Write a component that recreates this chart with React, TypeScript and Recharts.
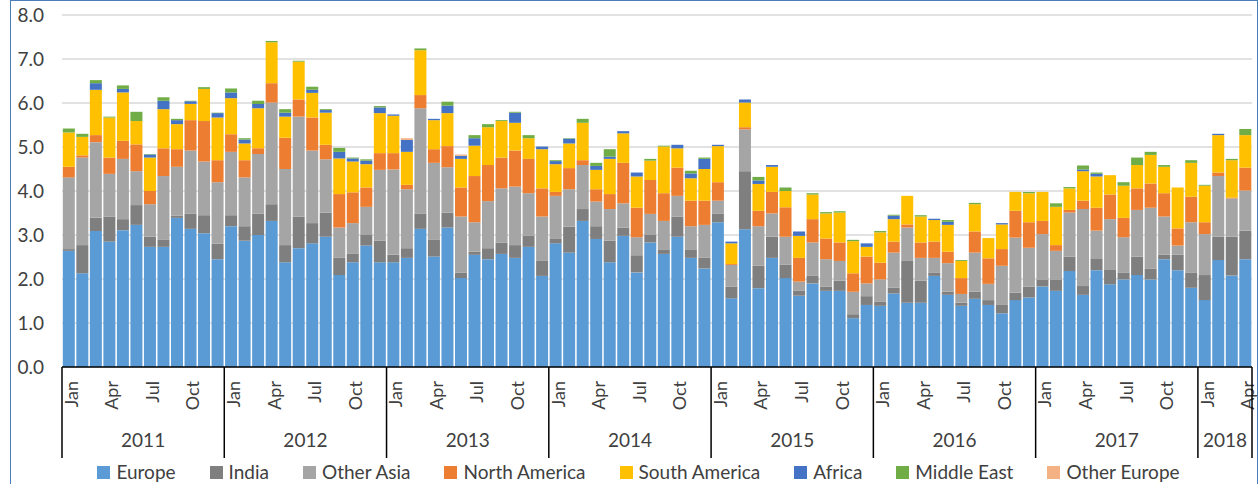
import React from 'react';
import { BarChart, Bar, XAxis, YAxis, CartesianGrid, Legend } from 'recharts';

const MONTH_NAMES = ['Jan', 'Feb', 'Mar', 'Apr', 'May', 'Jun', 'Jul', 'Aug', 'Sep', 'Oct', 'Nov', 'Dec'];
const YEARS = [2011, 2012, 2013, 2014, 2015, 2016, 2017, 2018];
const MONTHS_PER_YEAR = [12, 12, 12, 12, 12, 12, 12, 4];
const LABELLED_MONTHS = ['Jan', 'Apr', 'Jul', 'Oct'];
const Y_TICKS = [0, 1, 2, 3, 4, 5, 6, 7, 8];

const europe = [
  2.64, 2.13, 3.09, 2.85, 3.11, 3.23, 2.73, 2.73, 3.39, 3.14, 3.04, 2.45,
  3.20, 2.87, 3.00, 3.32, 2.38, 2.70, 2.81, 2.96, 2.09, 2.38, 2.76, 2.38,
  2.38, 2.48, 3.14, 2.51, 3.17, 2.02, 2.55, 2.45, 2.57, 2.48, 2.73, 2.07,
  2.81, 2.60, 3.32, 2.91, 2.38, 2.98, 2.15, 2.83, 2.57, 2.96, 2.48, 2.24,
  3.29, 1.56, 3.13, 1.79, 2.48, 2.02, 1.62, 1.90, 1.73, 1.73, 1.11, 1.41,
  1.39, 1.67, 1.46, 1.46, 2.07, 1.64, 1.39, 1.55, 1.41, 1.22, 1.52, 1.58,
  1.83, 1.73, 2.18, 1.64, 2.20, 1.88, 1.99, 2.09, 1.99, 2.45, 2.20, 1.80,
  1.52, 2.43, 2.08, 2.45,
];
const india = [
  0.04, 0.64, 0.30, 0.57, 0.25, 0.45, 0.23, 0.17, 0.05, 0.34, 0.41, 0.35,
  0.25, 0.33, 0.49, 0.38, 0.39, 0.72, 0.46, 0.55, 0.39, 0.19, 0.24, 0.49,
  0.17, 0.22, 0.35, 0.39, 0.34, 0.12, 0.07, 0.25, 0.26, 0.29, 0.25, 0.34,
  0.10, 0.59, 0.27, 0.29, 0.49, 0.19, 0.39, 0.17, 0.09, 0.46, 0.18, 0.24,
  0.20, 0.27, 1.32, 0.51, 0.48, 0.31, 0.11, 0.17, 0.10, 0.23, 0.09, 0.20,
  0.09, 0.13, 0.95, 0.50, 0.08, 0.07, 0.07, 0.16, 0.11, 0.19, 0.17, 0.25,
  0.16, 0.26, 0.33, 0.20, 0.27, 0.34, 0.16, 0.42, 0.24, 0.10, 0.35, 0.35,
  0.57, 0.53, 0.88, 0.65,
];
const otherAsia = [
  1.63, 1.99, 1.72, 0.97, 1.37, 0.77, 0.74, 1.44, 1.11, 1.44, 1.22, 1.40,
  1.44, 1.11, 1.35, 2.31, 1.73, 2.27, 1.65, 1.21, 0.69, 0.70, 0.64, 1.61,
  1.94, 1.34, 2.39, 1.74, 1.03, 1.28, 0.67, 1.07, 1.23, 1.33, 0.97, 1.01,
  0.98, 0.85, 1.00, 0.56, 0.72, 0.55, 0.41, 0.48, 0.66, 0.47, 0.54, 0.75,
  0.29, 0.49, 0.95, 0.90, 0.53, 0.63, 0.21, 0.76, 0.62, 0.45, 0.51, 0.29,
  0.51, 0.80, 0.76, 0.52, 0.33, 0.65, 0.20, 0.89, 0.37, 0.89, 1.25, 0.88,
  1.03, 0.65, 1.00, 1.75, 0.63, 1.14, 0.80, 1.06, 1.39, 0.87, 0.21, 1.14,
  0.93, 1.38, 0.87, 0.91,
];
const northAmerica = [
  0.24, 0.05, 0.16, 0.37, 0.41, 0.61, 0.30, 0.63, 0.40, 0.69, 0.92, 0.50,
  0.40, 0.39, 0.13, 0.44, 0.71, 0.39, 0.75, 0.33, 0.76, 0.70, 0.44, 0.38,
  0.37, 0.10, 0.30, 0.31, 0.48, 0.66, 1.05, 0.82, 0.70, 0.82, 0.78, 0.64,
  0.09, 0.48, 0.11, 0.28, 0.34, 0.92, 0.67, 0.77, 0.63, 0.64, 0.58, 0.55,
  0.42, 0.02, 0.05, 0.35, 0.49, 0.67, 0.54, 0.53, 0.47, 0.42, 0.42, 0.61,
  0.38, 0.25, 0.07, 0.35, 0.37, 0.26, 0.36, 0.48, 0.58, 0.38, 0.61, 0.58,
  0.30, 0.13, 0.06, 0.19, 0.52, 0.56, 0.44, 0.49, 0.55, 0.53, 0.39, 0.58,
  0.27, 0.08, 0.02, 0.52,
];
const southAmerica = [
  0.78, 0.42, 1.03, 0.91, 1.10, 0.53, 0.76, 0.89, 0.57, 0.37, 0.73, 0.97,
  0.82, 0.38, 0.91, 0.93, 0.48, 0.86, 0.56, 0.73, 0.81, 0.70, 0.53, 0.91,
  0.85, 0.75, 1.02, 0.66, 0.75, 0.65, 0.69, 0.86, 0.83, 0.63, 0.47, 0.89,
  0.63, 0.56, 0.85, 0.44, 0.80, 0.67, 0.71, 0.44, 1.06, 0.44, 0.51, 0.72,
  0.82, 0.47, 0.56, 0.61, 0.57, 0.37, 0.50, 0.56, 0.57, 0.68, 0.73, 0.22,
  0.69, 0.51, 0.65, 0.59, 0.49, 0.61, 0.39, 0.62, 0.46, 0.56, 0.43, 0.66,
  0.66, 0.87, 0.49, 0.67, 0.71, 0.44, 0.73, 0.53, 0.65, 0.60, 0.93, 0.77,
  0.83, 0.85, 0.85, 0.74,
];
const africa = [
  0.00, 0.00, 0.15, 0.00, 0.08, 0.00, 0.07, 0.19, 0.09, 0.06, 0.00, 0.10,
  0.13, 0.09, 0.10, 0.00, 0.09, 0.00, 0.07, 0.06, 0.15, 0.07, 0.08, 0.13,
  0.03, 0.27, 0.00, 0.03, 0.17, 0.07, 0.17, 0.00, 0.00, 0.23, 0.00, 0.06,
  0.07, 0.11, 0.00, 0.09, 0.05, 0.05, 0.09, 0.00, 0.00, 0.08, 0.11, 0.23,
  0.03, 0.04, 0.07, 0.08, 0.04, 0.00, 0.10, 0.00, 0.00, 0.00, 0.00, 0.08,
  0.00, 0.08, 0.00, 0.00, 0.03, 0.07, 0.00, 0.00, 0.00, 0.03, 0.00, 0.00,
  0.00, 0.00, 0.00, 0.04, 0.06, 0.00, 0.00, 0.00, 0.00, 0.00, 0.00, 0.00,
  0.00, 0.03, 0.00, 0.00,
];
const middleEast = [
  0.09, 0.07, 0.07, 0.02, 0.08, 0.21, 0.01, 0.08, 0.03, 0.01, 0.04, 0.01,
  0.09, 0.03, 0.07, 0.03, 0.08, 0.02, 0.07, 0.02, 0.09, 0.02, 0.03, 0.03,
  0.00, 0.00, 0.04, 0.00, 0.09, 0.00, 0.07, 0.07, 0.02, 0.02, 0.07, 0.00,
  0.02, 0.01, 0.09, 0.07, 0.17, 0.00, 0.00, 0.04, 0.02, 0.00, 0.06, 0.03,
  0.00, 0.00, 0.00, 0.08, 0.00, 0.08, 0.00, 0.03, 0.03, 0.03, 0.03, 0.00,
  0.03, 0.02, 0.00, 0.03, 0.00, 0.04, 0.02, 0.03, 0.00, 0.00, 0.00, 0.03,
  0.00, 0.08, 0.03, 0.09, 0.03, 0.00, 0.08, 0.17, 0.07, 0.04, 0.00, 0.06,
  0.02, 0.00, 0.03, 0.14,
];
const otherEurope = [
  0, 0, 0, 0, 0, 0, 0, 0, 0, 0, 0, 0,
  0, 0, 0, 0, 0, 0, 0, 0, 0, 0, 0, 0,
  0, 0.04, 0, 0, 0, 0.03, 0, 0, 0, 0, 0, 0,
  0, 0, 0, 0, 0, 0, 0, 0, 0, 0, 0, 0,
  0, 0, 0, 0, 0, 0, 0, 0, 0, 0, 0, 0,
  0, 0, 0, 0, 0, 0, 0, 0, 0, 0, 0, 0,
  0, 0, 0, 0, 0, 0, 0, 0, 0, 0, 0, 0,
  0, 0, 0, 0,
];

const SERIES = [
  { key: 'europe', name: 'Europe', color: '#5B9BD5', values: europe },
  { key: 'india', name: 'India', color: '#7F7F7F', values: india },
  { key: 'otherAsia', name: 'Other Asia', color: '#A5A5A5', values: otherAsia },
  { key: 'northAmerica', name: 'North America', color: '#ED7D31', values: northAmerica },
  { key: 'southAmerica', name: 'South America', color: '#FFC000', values: southAmerica },
  { key: 'africa', name: 'Africa', color: '#4472C4', values: africa },
  { key: 'middleEast', name: 'Middle East', color: '#70AD47', values: middleEast },
  { key: 'otherEurope', name: 'Other Europe', color: '#F4B183', values: otherEurope },
];

const categories: { month: string; year: number }[] = [];
YEARS.forEach((yr, yi) => {
  for (let m = 0; m < MONTHS_PER_YEAR[yi]; m++) categories.push({ month: MONTH_NAMES[m], year: yr });
});

const data = categories.map((c, i) => {
  const row: any = { id: `${c.year}-${c.month}`, month: c.month, year: c.year };
  SERIES.forEach((s) => {
    row[s.key] = s.values[i];
  });
  return row;
});

const FONT = 'Lato, "Open Sans", sans-serif';
const TEXT = '#404040';

const MonthTick = (props: any) => {
  const { x, y, payload, index } = props;
  const d = data[index];
  if (!d) return null;
  const half = payload && payload.offset ? payload.offset : 1190 / 88 / 2;
  const yi = YEARS.indexOf(d.year);
  const count = MONTHS_PER_YEAR[yi];
  const isFirst = d.month === 'Jan';
  const isLast = index === data.length - 1;
  return (
    <g>
      {LABELLED_MONTHS.includes(d.month) && (
        <text
          x={x + 2}
          y={y + 14}
          transform={`rotate(-90, ${x + 2}, ${y + 14})`}
          textAnchor="end"
          dominantBaseline="central"
          fontSize={18}
          fontFamily={FONT}
          fill={TEXT}
        >
          {d.month}
        </text>
      )}
      {isFirst && (
        <>
          <line x1={x - half} x2={x - half} y1={y} y2={y + 91} stroke="#000" strokeWidth={1.5} />
          <text
            x={x - half + count * half}
            y={y + 80}
            textAnchor="middle"
            fontSize={19}
            fontFamily={FONT}
            fill={TEXT}
          >
            {d.year}
          </text>
        </>
      )}
      {isLast && <line x1={x + half} x2={x + half} y1={y} y2={y + 91} stroke="#000" strokeWidth={1.5} />}
    </g>
  );
};

const LegendContent = () => (
  <div
    style={{
      display: 'flex',
      justifyContent: 'center',
      alignItems: 'center',
      fontFamily: FONT,
      fontSize: 19,
      lineHeight: '22px',
      color: TEXT,
      whiteSpace: 'nowrap',
      paddingLeft: 52,
    }}
  >
    {SERIES.map((s) => (
      <div key={s.key} style={{ display: 'flex', alignItems: 'center', marginRight: 34 }}>
        <span style={{ width: 13, height: 13, background: s.color, display: 'inline-block', marginRight: 6 }} />
        <span>{s.name}</span>
      </div>
    ))}
  </div>
);

export default function App() {
  return (
    <div style={{ position: 'absolute', left: 0, top: 0, width: 1259, height: 484, overflow: 'hidden', background: '#fff' }}>
      <BarChart
        width={1259}
        height={484}
        data={data}
        margin={{ top: 15, right: 7, bottom: 0, left: 0 }}
        barCategoryGap="6%"
      >
        <CartesianGrid vertical={false} stroke="#D9D9D9" strokeWidth={1.5} />
        <XAxis
          dataKey="id"
          interval={0}
          height={117}
          tickLine={false}
          tickSize={0}
          tickMargin={0}
          axisLine={{ stroke: '#000', strokeWidth: 1.5 }}
          tick={<MonthTick />}
        />
        <YAxis
          width={62}
          domain={[0, 8]}
          ticks={Y_TICKS}
          interval={0}
          axisLine={false}
          tickLine={false}
          tickSize={0}
          tickMargin={18}
          tickFormatter={(v: number) => v.toFixed(1)}
          tick={{ fontSize: 19, fontFamily: FONT, fill: TEXT }}
        />
        {SERIES.map((s) => (
          <Bar key={s.key} dataKey={s.key} name={s.name} stackId="a" fill={s.color} isAnimationActive={false} />
        ))}
        <Legend
          verticalAlign="middle"
          align="center"
          layout="horizontal"
          wrapperStyle={{ top: 461, left: 0, width: 1259 }}
          content={<LegendContent />}
        />
      </BarChart>
      <div
        style={{
          position: 'absolute',
          left: 10,
          top: 0,
          width: 1246,
          height: 500,
          borderLeft: '1.5px solid #4A7EBB',
          borderTop: '1.5px solid #4A7EBB',
          borderRight: '1.5px solid #4A7EBB',
          pointerEvents: 'none',
        }}
      />
    </div>
  );
}
